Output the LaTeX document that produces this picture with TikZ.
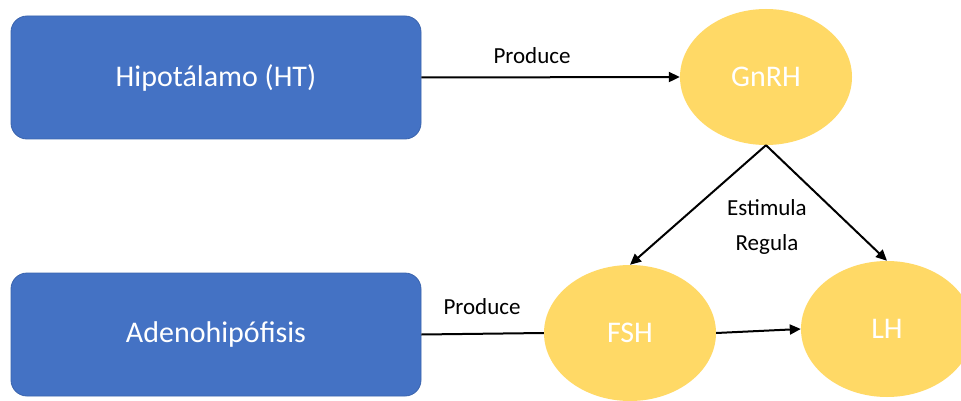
\documentclass[tikz,border=0pt]{standalone}
\usepackage{fontspec}
\setmainfont{Carlito}
\usetikzlibrary{shapes.geometric,arrows.meta}
\definecolor{boxblue}{HTML}{4472C4}
\definecolor{boxedge}{HTML}{3A64AE}
\definecolor{hormone}{HTML}{FFD966}
\begin{document}
\begin{tikzpicture}[x=1pt,y=-1pt,
  organ/.style={draw=boxedge,line width=0.8pt,fill=boxblue,rounded corners=16pt,
    minimum width=410pt,minimum height=123pt,inner sep=0pt,text=white,
    font=\fontsize{30}{34}\selectfont},
  horm/.style={ellipse,fill=hormone,minimum width=172pt,minimum height=136pt,
    inner sep=0pt,text=white,font=\fontsize{30}{34}\selectfont},
  lbl/.style={font=\fontsize{23}{26}\selectfont,text=black,inner sep=0pt},
  conn/.style={line width=2pt,draw=black},
  arr/.style={conn,-{Triangle[length=11pt,width=10pt]}}]
\useasboundingbox (0,0) rectangle (961,401);
\fill[white] (0,0) rectangle (961,401);
\node[organ] (ht) at (216,77.5) {Hipotálamo (HT)};
\node[organ] (ad) at (216,334.5) {Adenohipófisis};
\node[horm] (gn) at (766,77) {GnRH};
\node[horm] (fsh) at (630,333) {FSH};
\node[horm] (lh) at (887,329) {LH};
\draw[arr] (ht.east) -- (gn.west);
\draw[arr] (gn.south) -- (fsh.north);
\draw[arr] (gn.south) -- (lh.north);
\draw[conn] (ad.east) -- (fsh.west);
\draw[arr] (fsh.east) -- (lh.west);
\node[lbl] (p1) at (532,56) {Produce};
\node[lbl] (p2) at (482,307) {Produce};
\node[lbl] (es) at (767,208) {Estimula};
\node[lbl] (re) at (767,244) {Regula};
\end{tikzpicture}
\end{document}
